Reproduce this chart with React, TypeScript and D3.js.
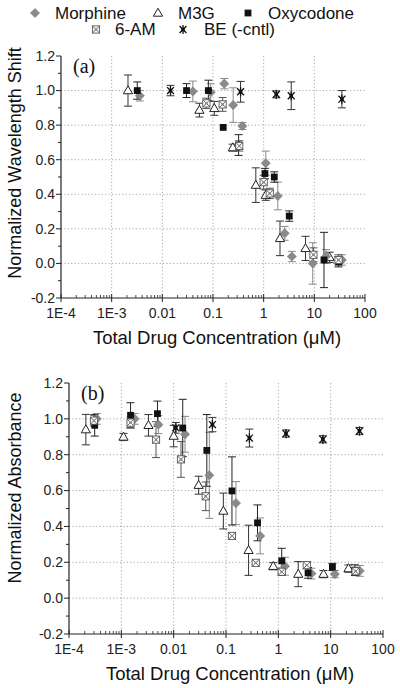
import React from "react";
import * as d3 from "d3";

// ---------- data: [concentration (µM), normalized value, error] ----------
const morphineA = [
  [0.0036, 0.97, 0.03], [0.04, 0.995, 0.06], [0.09, 0.99, 0.05], [0.167, 1.04, 0.03],
  [0.25, 0.916, 0.1], [0.38, 0.795, 0.02], [1.1, 0.58, 0.07], [1.9, 0.39, 0.08],
  [2.6, 0.174, 0.04], [3.6, 0.04, 0.03], [9.3, 0.0, 0.12], [17, 0.04, 0.04], [35, 0.02, 0.03],
];
const m3gA = [
  [0.0021, 1.0, 0.09], [0.054, 0.887, 0.04], [0.106, 0.897, 0.04], [0.246, 0.67, 0.02],
  [0.7, 0.453, 0.1], [1.1, 0.395, 0.03], [2.1, 0.145, 0.1], [6.7, 0.087, 0.07], [20, 0.035, 0.03],
];
const oxyA = [
  [0.0032, 1.0, 0.05], [0.03, 1.0, 0.04], [0.081, 1.0, 0.06], [0.159, 0.787, 0],
  [0.32, 0.685, 0.06], [1.06, 0.52, 0.03], [1.62, 0.5, 0.03], [3.2, 0.274, 0.03],
  [15.5, 0.02, 0.16], [30, 0.01, 0.03],
];
const amA = [
  [0.074, 0.926, 0.03], [0.155, 0.92, 0.04], [0.33, 0.68, 0.03], [1.0, 0.47, 0.04],
  [1.32, 0.405, 0.03], [9.6, 0.05, 0.04], [30, 0.02, 0.03],
];
const beA = [
  [0.0145, 1.0, 0.03], [0.35, 0.993, 0.06], [1.78, 0.978, 0.02], [3.5, 0.97, 0.08], [35, 0.95, 0.05],
];

const morphineB = [
  [0.00034, 1.0, 0.03], [0.0018, 1.0, 0.03], [0.0051, 0.968, 0.05], [0.0165, 0.914, 0.1],
  [0.048, 0.685, 0.24], [0.155, 0.53, 0.12], [0.45, 0.347, 0.1], [1.34, 0.178, 0.05],
  [4.3, 0.137, 0.03], [12, 0.134, 0.02], [36, 0.152, 0.03],
];
const m3gB = [
  [0.00021, 0.94, 0.085], [0.0011, 0.899, 0.02], [0.0033, 0.964, 0.06], [0.01, 0.904, 0.06],
  [0.03, 0.63, 0.05], [0.089, 0.486, 0.1], [0.27, 0.267, 0.14], [0.8, 0.178, 0.02],
  [2.4, 0.134, 0.07], [7.3, 0.134, 0.02], [21.9, 0.165, 0.02],
];
const oxyB = [
  [0.00031, 0.964, 0.06], [0.0015, 1.02, 0.07], [0.0049, 1.029, 0.07], [0.0149, 0.949, 0.16],
  [0.043, 0.824, 0.2], [0.13, 0.598, 0.19], [0.4, 0.42, 0.1], [1.16, 0.208, 0.07],
  [3.7, 0.141, 0.03], [10.8, 0.174, 0.02], [29, 0.156, 0.03],
];
const amB = [
  [0.0003, 0.99, 0.03], [0.0015, 0.979, 0.03], [0.0046, 0.884, 0.1], [0.0138, 0.774, 0.1],
  [0.041, 0.568, 0.08], [0.13, 0.347, 0.01], [0.37, 0.197, 0.01], [1.16, 0.147, 0.02],
  [3.5, 0.184, 0.02], [30, 0.15, 0.02],
];
const beB = [
  [0.011, 0.95, 0.03], [0.055, 0.968, 0.04], [0.28, 0.893, 0.05], [1.4, 0.918, 0.02],
  [7.1, 0.886, 0.02], [35.5, 0.932, 0.02],
];

const xTicks = [1e-4, 1e-3, 1e-2, 1e-1, 1, 10, 100];
const xTickLabels = ["1E-4", "1E-3", "0.01", "0.1", "1", "10", "100"];
const yTicks = [-0.2, 0, 0.2, 0.4, 0.6, 0.8, 1.0, 1.2];
const seriesNames = ["Morphine", "M3G", "Oxycodone", "6-AM", "BE (-cntl)"];

const FONT = "'Liberation Sans', Arial, sans-serif";

type Kind = "morphine" | "m3g" | "oxy" | "am" | "be";

function Marker({ kind, x, y }: { kind: Kind; x: number; y: number }) {
  if (kind === "morphine") {
    const s = 4.6;
    return (
      <path
        d={`M${x},${y - s}L${x + s},${y}L${x},${y + s}L${x - s},${y}Z`}
        fill="#8a8a8a"
        stroke="#7a7a7a"
        strokeWidth={0.6}
      />
    );
  }
  if (kind === "m3g") {
    const w = 4.6, h = 8;
    return (
      <path
        d={`M${x},${y - h * 0.6}L${x + w},${y + h * 0.4}L${x - w},${y + h * 0.4}Z`}
        fill="#fff"
        stroke="#222"
        strokeWidth={1}
      />
    );
  }
  if (kind === "oxy") {
    const s = 3.4;
    return <rect x={x - s} y={y - s} width={2 * s} height={2 * s} fill="#111" />;
  }
  if (kind === "am") {
    const s = 3.6;
    return (
      <g stroke="#555" strokeWidth={0.9}>
        <rect x={x - s} y={y - s} width={2 * s} height={2 * s} fill="#fff" />
        <line x1={x - s} y1={y - s} x2={x + s} y2={y + s} />
        <line x1={x - s} y1={y + s} x2={x + s} y2={y - s} />
        <circle cx={x} cy={y} r={1.2} fill="#888" stroke="none" />
      </g>
    );
  }
  const r = 4.6;
  const d = r * 0.75;
  return (
    <g stroke="#111" strokeWidth={1.3}>
      <line x1={x} y1={y - r} x2={x} y2={y + r} />
      <line x1={x - d} y1={y - d} x2={x + d} y2={y + d} />
      <line x1={x - d} y1={y + d} x2={x + d} y2={y - d} />
      <rect x={x - 1.8} y={y - 1.8} width={3.6} height={3.6} fill="#111" stroke="none" />
    </g>
  );
}

const barColor: Record<Kind, string> = {
  morphine: "#8a8a8a",
  m3g: "#333",
  oxy: "#222",
  am: "#555",
  be: "#333",
};

type Series = { kind: Kind; data: number[][] };

function Panel({
  x0, x1, yTop, yBot, label, yTitle, yTitleCenter, series,
}: {
  x0: number; x1: number; yTop: number; yBot: number; label: string;
  yTitle: string; yTitleCenter: number; series: Series[];
}) {
  const xs = d3.scaleLog().domain([1e-4, 100]).range([x0, x1]);
  const ys = d3.scaleLinear().domain([-0.2, 1.2]).range([yBot, yTop]);
  const minorX: number[] = [];
  for (let e = -4; e < 2; e++) for (let m = 2; m <= 9; m++) minorX.push(m * Math.pow(10, e));
  const minorY = d3.range(-0.1, 1.2, 0.2);
  const gridStyle = { stroke: "#a8a8a8", strokeWidth: 1, strokeDasharray: "1.2,2.2" };
  return (
    <g>
      {/* grid */}
      {xTicks.slice(1, -1).map((t) => (
        <line key={"gx" + t} x1={xs(t)} x2={xs(t)} y1={yTop} y2={yBot} {...gridStyle} />
      ))}
      {yTicks.slice(1, -1).map((t) => (
        <line key={"gy" + t} x1={x0} x2={x1} y1={ys(t)} y2={ys(t)} {...gridStyle} />
      ))}
      {/* axes */}
      <line x1={x0} x2={x0} y1={yTop} y2={yBot} stroke="#222" strokeWidth={1.2} />
      <line x1={x0} x2={x1} y1={yBot} y2={yBot} stroke="#222" strokeWidth={1.2} />
      {yTicks.map((t) => (
        <g key={"yt" + t}>
          <line x1={x0 - 5} x2={x0} y1={ys(t)} y2={ys(t)} stroke="#222" strokeWidth={1} />
          <text x={x0 - 6} y={ys(t)} dy="0.35em" textAnchor="end" fontSize={14} fontFamily={FONT} fill="#222">
            {t.toFixed(1)}
          </text>
        </g>
      ))}
      {minorY.map((t) => (
        <line key={"ym" + t} x1={x0 - 3} x2={x0} y1={ys(t)} y2={ys(t)} stroke="#222" strokeWidth={1} />
      ))}
      {xTicks.map((t, i) => (
        <g key={"xt" + t}>
          <line x1={xs(t)} x2={xs(t)} y1={yBot - 4} y2={yBot + 4} stroke="#222" strokeWidth={1} />
          <text x={xs(t)} y={yBot + 20} textAnchor="middle" fontSize={14} fontFamily={FONT} fill="#222">
            {xTickLabels[i]}
          </text>
        </g>
      ))}
      {minorX.map((t) => (
        <line key={"xm" + t} x1={xs(t)} x2={xs(t)} y1={yBot - 3} y2={yBot} stroke="#222" strokeWidth={0.8} />
      ))}
      <text x={(x0 + x1) / 2 + 4} y={yBot + 46} textAnchor="middle" fontSize={18.5} fontFamily={FONT} fill="#111">
        Total Drug Concentration (μM)
      </text>
      <text
        transform={`translate(21,${yTitleCenter}) rotate(-90)`}
        textAnchor="middle"
        fontSize={18}
        fontFamily={FONT}
        fill="#111"
      >
        {yTitle}
      </text>
      <text x={x0 + 12} y={yTop + 17} fontSize={20} fontFamily="'Liberation Serif', 'Times New Roman', serif" fill="#111">
        {label}
      </text>
      {/* error bars */}
      {series.map((s) =>
        s.data.map((p, i) => {
          const cx = xs(p[0]);
          const e = p[2];
          if (!e) return null;
          const yt = ys(p[1] + e), yb = ys(p[1] - e);
          return (
            <g key={s.kind + "e" + i} stroke={barColor[s.kind]} strokeWidth={1}>
              <line x1={cx} x2={cx} y1={yt} y2={yb} />
              <line x1={cx - 4} x2={cx + 4} y1={yt} y2={yt} />
              <line x1={cx - 4} x2={cx + 4} y1={yb} y2={yb} />
            </g>
          );
        })
      )}
      {series.map((s) =>
        s.data.map((p, i) => <Marker key={s.kind + "m" + i} kind={s.kind} x={xs(p[0])} y={ys(p[1])} />)
      )}
    </g>
  );
}

export default function App() {
  const seriesA: Series[] = [
    { kind: "m3g", data: m3gA },
    { kind: "morphine", data: morphineA },
    { kind: "oxy", data: oxyA },
    { kind: "am", data: amA },
    { kind: "be", data: beA },
  ];
  const seriesB: Series[] = [
    { kind: "m3g", data: m3gB },
    { kind: "morphine", data: morphineB },
    { kind: "oxy", data: oxyB },
    { kind: "am", data: amB },
    { kind: "be", data: beB },
  ];
  const legendItems: { kind: Kind; mx: number; tx: number; y: number }[] = [
    { kind: "morphine", mx: 35, tx: 55, y: 18.5 },
    { kind: "m3g", mx: 158, tx: 178, y: 18.5 },
    { kind: "oxy", mx: 248, tx: 268, y: 18.5 },
    { kind: "am", mx: 96, tx: 115, y: 35 },
    { kind: "be", mx: 183, tx: 204, y: 35 },
  ];
  return (
    <svg width={400} height={688} style={{ position: "absolute", left: 0, top: 0, background: "#fff" }}>
      <rect width={400} height={688} fill="#fff" />
      {legendItems.map((it, i) => (
        <g key={"lg" + i}>
          <Marker kind={it.kind} x={it.mx} y={it.y - 5.5} />
          <text x={it.tx} y={it.y} fontSize={17} fontFamily={FONT} fill="#111">
            {seriesNames[i]}
          </text>
        </g>
      ))}
      <Panel x0={61} x1={365} yTop={56} yBot={298} label="(a)" yTitle="Normalized Wavelength Shift" yTitleCenter={163} series={seriesA} />
      <Panel x0={69} x1={383} yTop={383} yBot={634} label="(b)" yTitle="Normalized Absorbance" yTitleCenter={488} series={seriesB} />
    </svg>
  );
}
